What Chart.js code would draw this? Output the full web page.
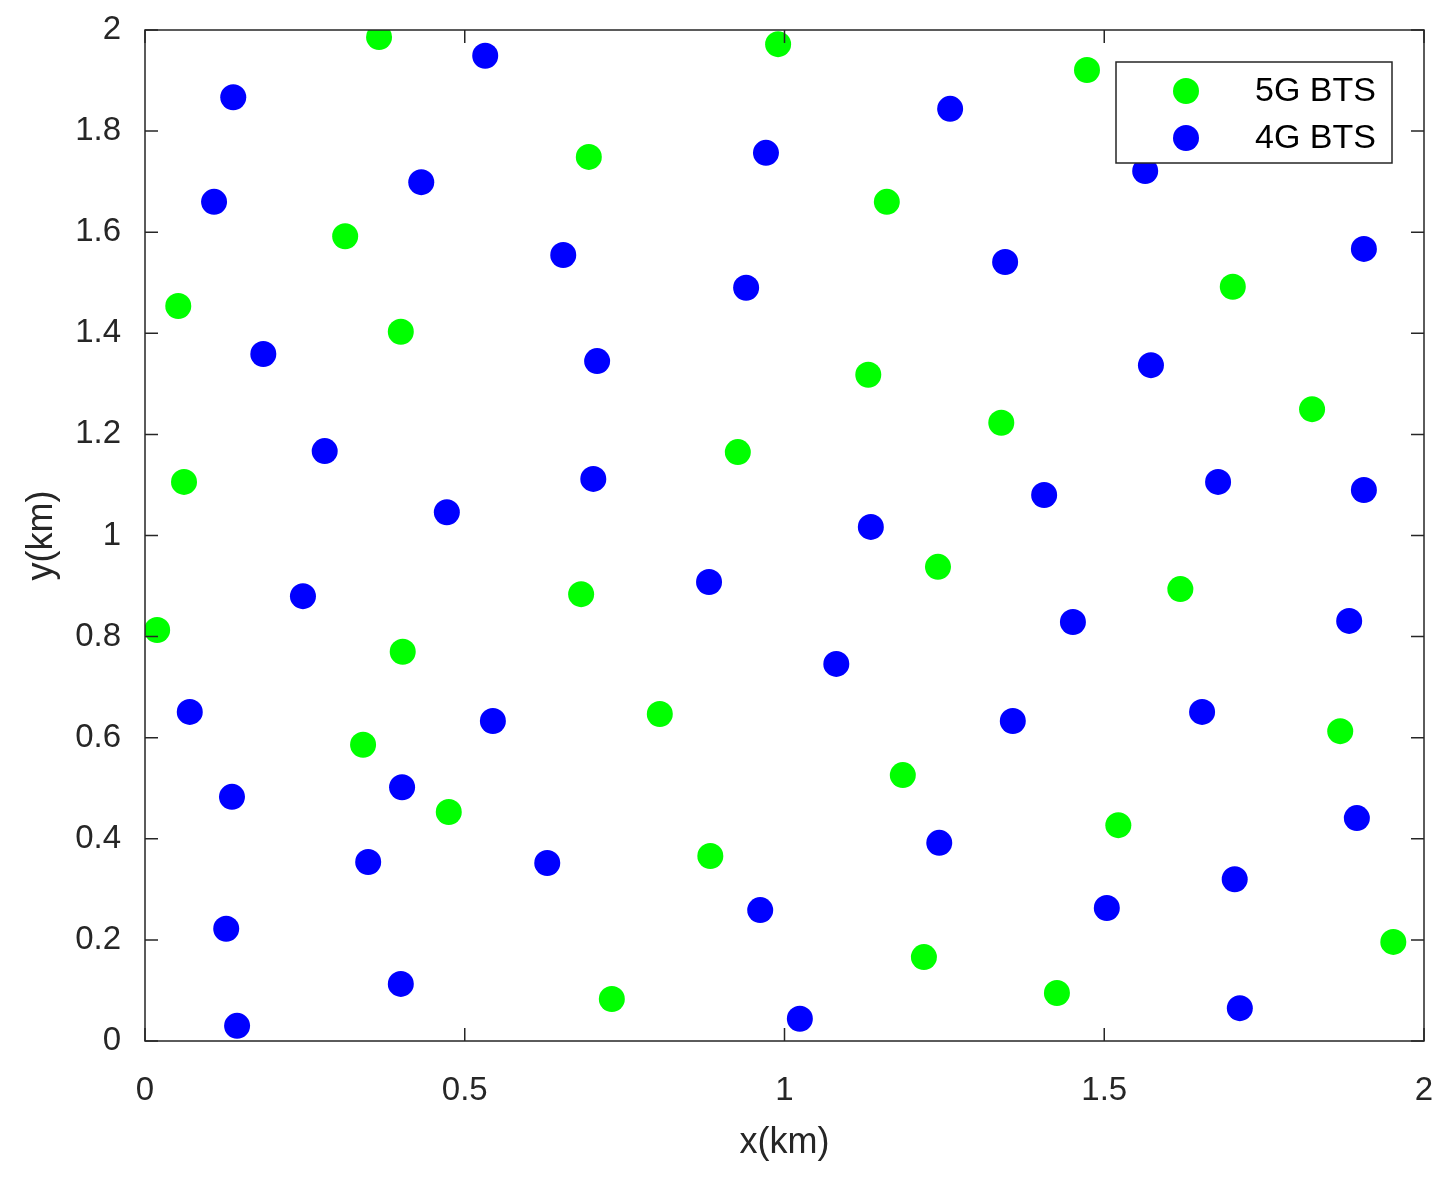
<!DOCTYPE html>
<html>
<head>
<meta charset="utf-8">
<script src="https://cdn.jsdelivr.net/npm/chart.js@4"></script>
<style>
  body { margin: 0; background: #fff; }
  #wrap { width: 1452px; height: 1185px; }
</style>
</head>
<body>
<div id="wrap"><canvas id="c"></canvas></div>
<script>
const bts5gX = [0.366, 0.990, 1.473, 0.694, 1.160, 0.313, 0.052, 0.400, 1.701, 1.131, 1.825, 1.339, 0.927, 0.061, 1.240, 0.682, 1.619, 0.019, 0.403, 0.805, 1.869, 0.341, 1.185, 0.475, 1.522, 0.884, 1.952, 1.218, 0.730, 1.426];
const bts5gY = [1.986, 1.972, 1.921, 1.749, 1.660, 1.592, 1.454, 1.403, 1.492, 1.318, 1.250, 1.223, 1.165, 1.106, 0.938, 0.884, 0.894, 0.813, 0.770, 0.647, 0.613, 0.586, 0.526, 0.453, 0.427, 0.366, 0.196, 0.166, 0.083, 0.095];
const bts4gX = [0.532, 0.138, 1.259, 0.971, 0.432, 0.108, 1.564, 0.654, 1.345, 1.906, 0.940, 0.185, 0.707, 1.573, 0.281, 0.701, 1.678, 1.406, 1.906, 0.472, 1.135, 0.882, 0.247, 1.451, 1.883, 1.081, 0.070, 0.544, 1.357, 1.653, 0.136, 0.402, 1.895, 1.242, 0.349, 0.629, 1.704, 0.962, 1.504, 0.127, 0.400, 1.712, 1.024, 0.144];
const bts4gY = [1.949, 1.867, 1.844, 1.757, 1.699, 1.660, 1.721, 1.555, 1.541, 1.567, 1.490, 1.359, 1.345, 1.337, 1.167, 1.112, 1.106, 1.080, 1.090, 1.046, 1.017, 0.908, 0.880, 0.829, 0.831, 0.746, 0.651, 0.633, 0.633, 0.651, 0.483, 0.502, 0.441, 0.392, 0.354, 0.352, 0.320, 0.259, 0.263, 0.222, 0.113, 0.065, 0.044, 0.030];
const xTicks = [0, 0.5, 1, 1.5, 2];
const yTicks = [0, 0.2, 0.4, 0.6, 0.8, 1, 1.2, 1.4, 1.6, 1.8, 2];

const FONT = "'Liberation Sans', Arial, sans-serif";
const toPts = (xs, ys) => xs.map((x, i) => ({ x, y: ys[i] }));
const fmt = v => String(Math.round(v * 10) / 10);

// frame, inward ticks on all sides, and the legend box
const framePlugin = {
    id: "frame",
    afterDatasetsDraw(chart) {
        const { ctx, chartArea: a, scales } = chart;
        ctx.save();
        ctx.strokeStyle = "#262626";
        ctx.lineWidth = 1.5;
        ctx.strokeRect(a.left, a.top, a.right - a.left, a.bottom - a.top);
        const t = 13;
        ctx.beginPath();
        xTicks.forEach(v => {
            const px = scales.x.getPixelForValue(v);
            ctx.moveTo(px, a.bottom); ctx.lineTo(px, a.bottom - t);
            ctx.moveTo(px, a.top); ctx.lineTo(px, a.top + t);
        });
        yTicks.forEach(v => {
            const py = scales.y.getPixelForValue(v);
            ctx.moveTo(a.left, py); ctx.lineTo(a.left + t, py);
            ctx.moveTo(a.right, py); ctx.lineTo(a.right - t, py);
        });
        ctx.stroke();

        // legend
        const lx = 1116, ly = 62, lw = 276, lh = 101;
        ctx.fillStyle = "#fff";
        ctx.fillRect(lx, ly, lw, lh);
        ctx.strokeStyle = "#262626";
        ctx.strokeRect(lx, ly, lw, lh);
        const items = [["5G BTS", "#00ff00"], ["4G BTS", "#0000ff"]];
        items.forEach(([label, col], i) => {
            const cy = ly + 29 + i * 47;
            ctx.fillStyle = col;
            ctx.beginPath();
            ctx.arc(1186, cy, 13, 0, Math.PI * 2);
            ctx.fill();
            ctx.fillStyle = "#000";
            ctx.font = "34px " + FONT;
            ctx.textAlign = "left";
            ctx.textBaseline = "middle";
            ctx.fillText(label, 1255, cy + 1);
        });
        ctx.restore();
    }
};

new Chart(document.getElementById("c"), {
    type: "scatter",
    data: {
        datasets: [
            { label: "5G BTS", data: toPts(bts5gX, bts5gY), backgroundColor: "#00ff00", borderWidth: 0, pointRadius: 13, pointHoverRadius: 13 },
            { label: "4G BTS", data: toPts(bts4gX, bts4gY), backgroundColor: "#0000ff", borderWidth: 0, pointRadius: 13, pointHoverRadius: 13 }
        ]
    },
    options: {
        responsive: true,
        maintainAspectRatio: false,
        animation: false,
        layout: { padding: { top: 30, right: 28, bottom: 0, left: 0 } },
        plugins: { legend: { display: false }, tooltip: { enabled: false } },
        scales: {
            x: {
                type: "linear", min: 0, max: 2,
                afterBuildTicks: s => { s.ticks = xTicks.map(v => ({ value: v })); },
                afterFit: s => { s.height = 144; s.paddingRight = 0; s.paddingLeft = 0; },
                grid: { display: false },
                border: { display: false },
                ticks: { color: "#262626", font: { family: FONT, size: 33 }, padding: 22, maxRotation: 0, callback: fmt },
                title: { display: true, text: "x(km)", color: "#262626", font: { family: FONT, size: 36 }, padding: { top: 8, bottom: 20 } }
            },
            y: {
                type: "linear", min: 0, max: 2,
                afterBuildTicks: s => { s.ticks = yTicks.map(v => ({ value: v })); },
                afterFit: s => { s.width = 145; s.paddingTop = 0; s.paddingBottom = 0; },
                grid: { display: false },
                border: { display: false },
                ticks: { color: "#262626", font: { family: FONT, size: 33 }, padding: 16, callback: fmt },
                title: { display: true, text: "y(km)", color: "#262626", font: { family: FONT, size: 36 }, padding: { top: 20, bottom: 8 } }
            }
        }
    },
    plugins: [framePlugin]
});
</script>
</body>
</html>
